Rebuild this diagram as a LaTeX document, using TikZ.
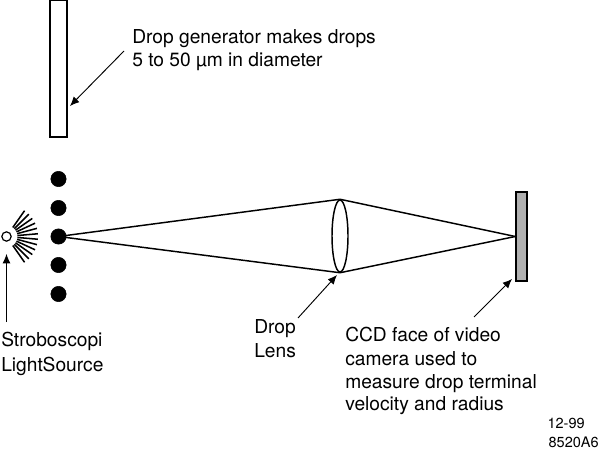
\documentclass[tikz,border=0pt]{standalone}
\usepackage{fontspec}
\setmainfont{TeX Gyre Heros}
\usepackage{tikz}
\usetikzlibrary{calc, arrows.meta, shapes.geometric}

\begin{document}
\begin{tikzpicture}[
  x=0.75pt, y=-0.75pt,
  label/.style={inner sep=0pt, anchor=base west, font=\fontsize{14.4}{14.4}\selectfont},
  smalllabel/.style={inner sep=0pt, anchor=base east, font=\fontsize{10.9}{10.9}\selectfont},
  drop/.style={draw, circle, fill=black, inner sep=0pt, minimum size=11.5pt},
  beam/.style={line width=1.1pt},
  ray/.style={line width=1.15pt},
  arrow/.style={-{Latex[length=7pt, width=6pt]}, line width=0.7pt},
]
  \useasboundingbox (0,0) rectangle (599,456);

  % Generator, lens and camera face
  \node (generator) [draw, line width=1.1pt, inner sep=0pt, minimum width=12.75pt, minimum height=102.75pt] at (58.5,68.5) {};
  \node (lens) [draw, ellipse, line width=1.1pt, inner sep=0pt, minimum width=12pt, minimum height=54pt] at (340,236) {};
  \node (ccd) [draw, fill=black!31, line width=1.1pt, inner sep=0pt, minimum width=8.25pt, minimum height=66.75pt] at (521.5,236.5) {};

  % Drops
  \foreach \i/\y in {1/179,2/208,3/236.5,4/265,5/294} {
    \node (drop\i) [drop] at (58.5,\y) {};
  }

  % Light source
  \node (lamp) [draw, circle, line width=0.9pt, inner sep=0pt, minimum size=7pt] at (6.5,236.5) {};
  \foreach \a in {-55,-45,...,55} {
    \draw [ray] ($(lamp.center)+(\a:11)$) -- ($(lamp.center)+(\a:31.5)$);
  }

  % Light path
  \draw [beam] (drop3.center) -- (lens.north) -- (ccd.west);
  \draw [beam] (drop3.center) -- (lens.south) -- (ccd.west);

  % Labels
  \node (gentext1) [label] at (132,44) {Drop generator makes drops};
  \node (gentext2) [label] at (132,67) {5 to 50 µm in diameter};
  \node (lamptext1) [label] at (1,346) {Stroboscopi};
  \node (lamptext2) [label] at (1,371) {LightSource};
  \node (lenstext1) [label] at (254,333) {Drop};
  \node (lenstext2) [label] at (254,357) {Lens};
  \node (ccdtext1) [label] at (345,341) {CCD face of video};
  \node (ccdtext2) [label] at (345,365) {camera used to};
  \node (ccdtext3) [label] at (345,388) {measure drop terminal};
  \node (ccdtext4) [label] at (345,410) {velocity and radius};
  \node (datetext) [smalllabel] at (585,428) {12-99};
  \node (idtext) [smalllabel] at (599,447) {8520A6};

  % Arrow ends
  \coordinate (gentail) at (124,51);
  \coordinate (gentip) at (70,106);
  \coordinate (lamptail) at (6.5,322);
  \coordinate (lamptip) at (6.5,254);
  \coordinate (lenstail) at (298,318);
  \coordinate (lenstip) at (337,275);
  \coordinate (ccdtail) at (474,317);
  \coordinate (ccdtip) at (512,279);

  % Connect labels to what they name
  \foreach \n in {gen,lamp,lens,ccd} {
    \draw [arrow] (\n tail) -- (\n tip);
  }

\end{tikzpicture}
\end{document}
